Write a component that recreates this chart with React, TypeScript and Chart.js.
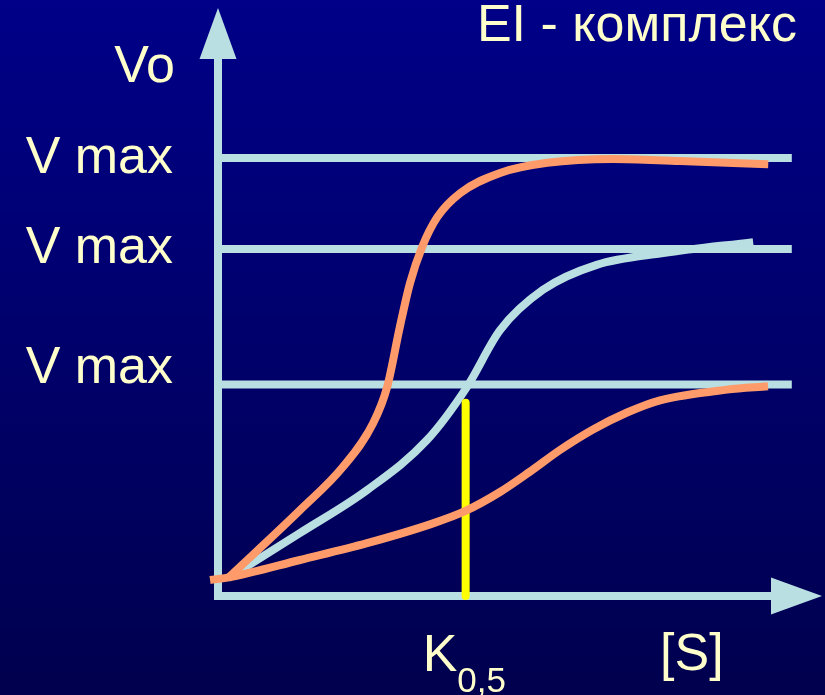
import React, { useEffect, useRef } from "react";
import { Chart, registerables } from "chart.js";

Chart.register(...registerables);

// ---- data ----
const TITLE = "EI - комплекс";
const Y_LABEL = "Vo";
const X_LABEL = "[S]";
const K_MAIN = "K";
const K_SUB = "0,5";
const VMAX_LABEL = "V max";

// Vmax levels (arbitrary units)
const vmaxLevels = [100, 79.2, 48.3];
const vmaxLineX = [0.66, 95.0];
const vmaxLabelY = [96.6, 76.1, 48.6];

// Curves: [S] values and velocities
const upperX = [1.66, 13.58, 20.7, 25.7, 28.0, 30.1, 31.8, 33.8, 36.3, 40.1, 46.7, 54.5, 65.4, 76.5, 91.1];
const upperY = [4.1, 19.6, 29.5, 39.5, 47.7, 61.4, 71.5, 79.7, 86.5, 92.0, 96.6, 98.9, 99.8, 99.3, 98.6];

const middleX = [1.66, 13.6, 24.7, 34.6, 41.2, 46.7, 53.8, 62.7, 73.7, 88.6];
const middleY = [4.1, 14.4, 24.2, 35.6, 47.7, 60.7, 69.9, 75.6, 78.3, 80.8];

const lowerX = [-1.32, 1.99, 13.58, 24.67, 35.6, 40.89, 46.69, 51.66, 56.62, 62.09, 67.72, 73.18, 84.27, 91.06];
const lowerY = [3.65, 4.3, 8.22, 12.05, 16.58, 19.36, 23.74, 28.4, 33.33, 38.01, 41.89, 44.68, 47.12, 47.87];

const k05 = 41.0;
const k05Top = 44.1;

const X_MAX = 100;
const Y_MAX = 134.25;

const AXIS_COLOR = "#b9dfe2";
const ORANGE = "#ff9b6a";
const YELLOW = "#ffff00";
const TEXT_COLOR = "#ffffcc";
const FONT = "'Liberation Sans', Arial, sans-serif";

const zip = (xs: number[], ys: number[]) => xs.map((x, i) => ({ x, y: ys[i] }));

const decorPlugin = {
  id: "decor",
  beforeDraw(chart: any) {
    const { ctx, width, height } = chart;
    ctx.save();
    const g = ctx.createLinearGradient(0, 0, 0, height);
    g.addColorStop(0, "#000088");
    g.addColorStop(1, "#00004e");
    ctx.fillStyle = g;
    ctx.fillRect(0, 0, width, height);
    ctx.restore();
  },
  beforeDatasetsDraw(chart: any) {
    const { ctx, chartArea } = chart;
    const xs = chart.scales.x;
    const ys = chart.scales.y;
    const x0 = xs.getPixelForValue(0);
    const y0 = ys.getPixelForValue(0);
    const tipY = chartArea.top;
    const tipX = chartArea.right;
    const headLen = 51;
    const headHalf = 18.5;
    ctx.save();
    ctx.strokeStyle = AXIS_COLOR;
    ctx.fillStyle = AXIS_COLOR;
    ctx.lineWidth = 8;
    ctx.lineCap = "square";
    ctx.beginPath();
    ctx.moveTo(x0, y0);
    ctx.lineTo(x0, tipY + headLen);
    ctx.moveTo(x0, y0);
    ctx.lineTo(tipX - headLen, y0);
    ctx.stroke();
    ctx.beginPath();
    ctx.moveTo(x0, tipY);
    ctx.lineTo(x0 - headHalf, tipY + headLen);
    ctx.lineTo(x0 + headHalf, tipY + headLen);
    ctx.closePath();
    ctx.fill();
    ctx.beginPath();
    ctx.moveTo(tipX, y0);
    ctx.lineTo(tipX - headLen, y0 - headHalf);
    ctx.lineTo(tipX - headLen, y0 + headHalf);
    ctx.closePath();
    ctx.fill();
    ctx.restore();
  },
  afterDraw(chart: any) {
    const { ctx } = chart;
    const xs = chart.scales.x;
    const ys = chart.scales.y;
    const x0 = xs.getPixelForValue(0);
    const y0 = ys.getPixelForValue(0);
    ctx.save();
    ctx.fillStyle = TEXT_COLOR;
    ctx.textBaseline = "alphabetic";
    ctx.font = `52px ${FONT}`;
    // title
    ctx.textAlign = "right";
    ctx.fillText(TITLE, 797, 41);
    // Vo
    ctx.fillText(Y_LABEL, x0 - 43, 81.5);
    // V max labels
    vmaxLabelY.forEach((v) => {
      ctx.fillText(VMAX_LABEL, x0 - 45, ys.getPixelForValue(v));
    });
    // K0,5
    ctx.textAlign = "left";
    const kx = xs.getPixelForValue(k05);
    ctx.fillText(K_MAIN, kx - 43, y0 + 74.5);
    const kw = ctx.measureText(K_MAIN).width;
    ctx.font = `35px ${FONT}`;
    ctx.fillText(K_SUB, kx - 43 + kw, y0 + 95.5);
    // [S]
    ctx.font = `52px ${FONT}`;
    ctx.fillText(X_LABEL, 660, y0 + 74);
    ctx.restore();
  },
};

export default function App() {
  const ref = useRef<HTMLCanvasElement | null>(null);
  useEffect(() => {
    if (!ref.current) return;
    const hlineSets = vmaxLevels.map((lv) => ({
      data: vmaxLineX.map((x) => ({ x, y: lv })),
      borderColor: AXIS_COLOR,
      borderWidth: 8,
      borderCapStyle: "butt" as const,
      pointRadius: 0,
      tension: 0,
      order: 10,
      clip: false as const,
    }));
    const curve = (xs: number[], ys: number[], color: string, order: number) => ({
      data: zip(xs, ys),
      borderColor: color,
      borderWidth: 8,
      borderCapStyle: "butt",
      pointRadius: 0,
      cubicInterpolationMode: "monotone",
      order,
      clip: false,
    });
    const chart = new Chart(ref.current, {
      type: "line",
      data: {
        datasets: [
          ...hlineSets,
          curve(middleX, middleY, AXIS_COLOR, 5),
          {
            data: [
              { x: k05, y: 0 },
              { x: k05, y: k05Top },
            ],
            borderColor: YELLOW,
            borderWidth: 8,
            borderCapStyle: "round",
            pointRadius: 0,
            tension: 0,
            order: 4,
            clip: false,
          },
          curve(lowerX, lowerY, ORANGE, 3),
          curve(upperX, upperY, ORANGE, 2),
        ] as any,
      },
      options: {
        animation: false,
        responsive: false,
        maintainAspectRatio: false,
        layout: { padding: { left: 218, right: 3, top: 8, bottom: 99 } },
        plugins: { legend: { display: false }, tooltip: { enabled: false }, title: { display: false } },
        events: [],
        scales: {
          x: { type: "linear", min: 0, max: X_MAX, display: false },
          y: { type: "linear", min: 0, max: Y_MAX, display: false },
        },
      },
      plugins: [decorPlugin],
    });
    return () => chart.destroy();
  }, []);
  return (
    <div style={{ position: "fixed", left: 0, top: 0, width: 825, height: 695 }}>
      <canvas ref={ref} width={825} height={695} style={{ display: "block" }} />
    </div>
  );
}
